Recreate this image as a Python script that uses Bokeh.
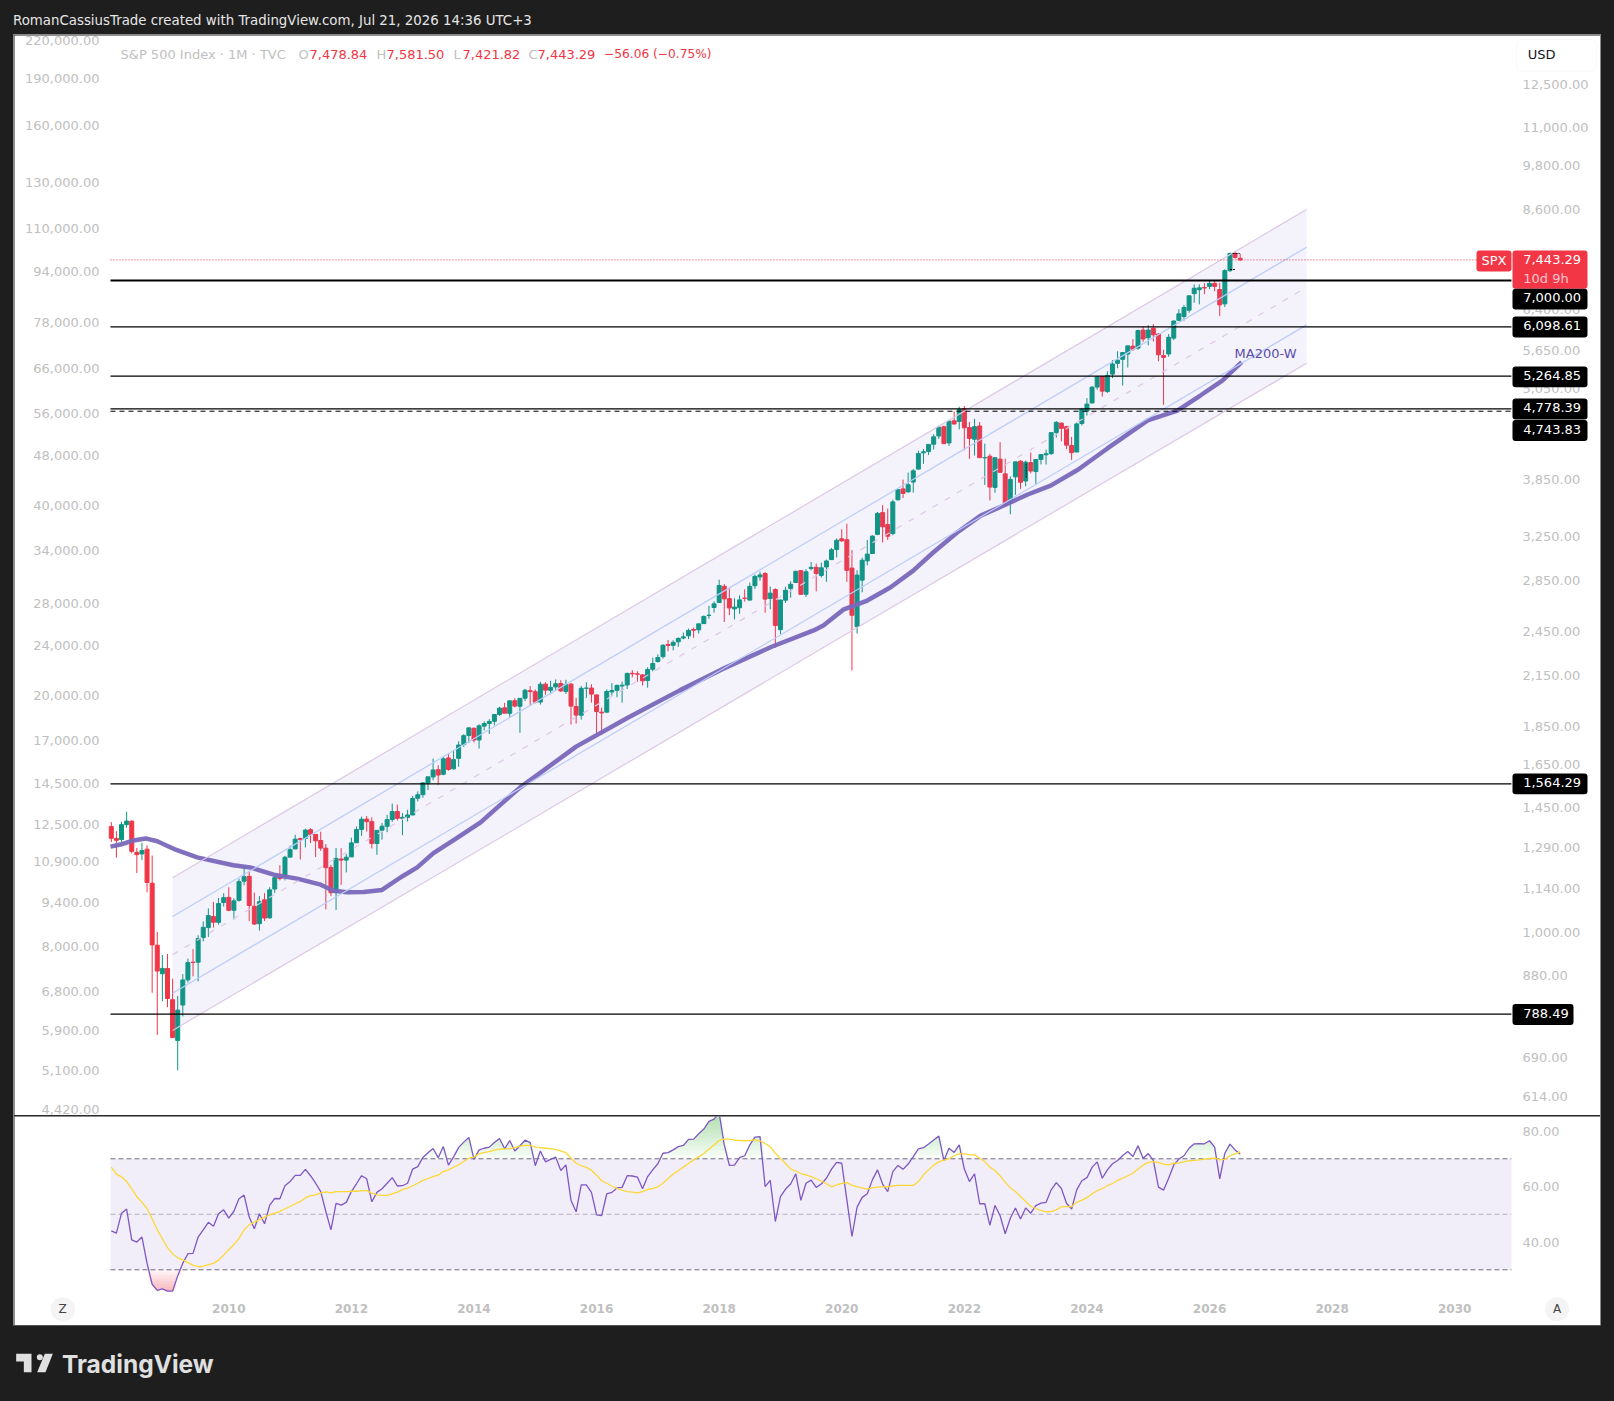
import numpy as np

from bokeh.embed import file_html
from bokeh.layouts import column
from bokeh.models import (BoxAnnotation, ColumnDataSource, FixedTicker, Label, LinearAxis, LogAxis, LogScale,
                          NumeralTickFormatter, Range1d, Spacer)
from bokeh.plotting import figure
from bokeh.resources import INLINE

# monthly bars, month 1 = Feb 2008 ... month 222 = Jul 2026
months = list(range(1, 223))

opens = [
    1378, 1330, 1326, 1386, 1400, 1276, 1270, 1288, 1164, 968, 889,
    903, 823, 729, 810, 873, 920, 920, 990, 1020, 1054, 1036, 1099,
    1116, 1074, 1106, 1171, 1188, 1087, 1032, 1108, 1050, 1144, 1186, 1187,
    1258, 1289, 1329, 1330, 1365, 1346, 1322, 1292, 1220, 1132, 1251, 1247,
    1259, 1313, 1366, 1409, 1398, 1310, 1363, 1379, 1407, 1441, 1412, 1416,
    1426, 1499, 1515, 1569, 1597, 1632, 1610, 1690, 1636, 1688, 1759, 1807,
    1846, 1783, 1858, 1873, 1885, 1924, 1962, 1930, 2004, 1971, 2019, 2065,
    2058, 1996, 2105, 2067, 2088, 2109, 2060, 2105, 1970, 1919, 2080, 2081,
    2039, 1937, 1937, 2057, 2067, 2094, 2100, 2174, 2171, 2164, 2128, 2201,
    2252, 2285, 2369, 2363, 2388, 2415, 2431, 2477, 2475, 2521, 2583, 2645,
    2684, 2817, 2715, 2634, 2643, 2719, 2704, 2822, 2897, 2926, 2717, 2790,
    2476, 2703, 2798, 2849, 2952, 2751, 2971, 2981, 2910, 2984, 3050, 3144,
    3245, 3236, 2974, 2499, 2869, 3039, 3106, 3288, 3508, 3385, 3296, 3645,
    3764, 3731, 3842, 3993, 4191, 4207, 4300, 4407, 4529, 4317, 4610, 4602,
    4778, 4519, 4364, 4540, 4130, 4149, 3781, 4113, 3937, 3610, 3902, 4088,
    3854, 4071, 3964, 4110, 4167, 4181, 4451, 4579, 4530, 4284, 4202, 4574,
    4745, 4862, 5098, 5258, 5029, 5298, 5471, 5537, 5624, 5758, 5724, 6040,
    5903, 6070, 5968, 5598, 5625, 5897, 6218, 6288, 6409, 6732, 6812, 6856,
    6878, 6940, 6815, 6530, 7209, 7590, 7478.84,
]
highs = [
    1396, 1359, 1397, 1440, 1404, 1293, 1313, 1303, 1264, 1007, 940,
    943, 876, 832, 888, 930, 957, 997, 1039, 1080, 1101, 1114, 1130,
    1150, 1113, 1180, 1220, 1206, 1132, 1120, 1130, 1150, 1196, 1228, 1263,
    1302, 1344, 1333, 1369, 1371, 1346, 1357, 1308, 1230, 1293, 1292, 1270,
    1333, 1378, 1419, 1422, 1416, 1364, 1392, 1427, 1475, 1471, 1434, 1448,
    1510, 1530, 1570, 1598, 1687, 1654, 1698, 1710, 1730, 1776, 1814, 1849,
    1851, 1868, 1884, 1897, 1925, 1968, 1991, 2006, 2019, 2019, 2076, 2093,
    2072, 2120, 2117, 2126, 2135, 2130, 2133, 2113, 2021, 2094, 2117, 2105,
    2039, 1963, 2072, 2112, 2103, 2121, 2178, 2194, 2188, 2169, 2214, 2278,
    2301, 2371, 2401, 2399, 2420, 2454, 2484, 2491, 2519, 2582, 2658, 2695,
    2873, 2835, 2801, 2718, 2742, 2791, 2848, 2917, 2941, 2940, 2815, 2800,
    2708, 2814, 2860, 2950, 2955, 2965, 3028, 3014, 3022, 3050, 3158, 3248,
    3338, 3394, 3137, 2955, 3068, 3233, 3280, 3515, 3588, 3550, 3646, 3760,
    3870, 3951, 3995, 4218, 4238, 4302, 4429, 4546, 4546, 4608, 4744, 4808,
    4819, 4595, 4637, 4593, 4307, 4178, 4140, 4325, 4119, 3906, 4080, 4101,
    4095, 4195, 4111, 4170, 4231, 4449, 4607, 4584, 4542, 4394, 4587, 4793,
    4932, 5111, 5265, 5264, 5342, 5524, 5670, 5652, 5768, 5878, 6045, 6100,
    6129, 6147, 5987, 5696, 5969, 6215, 6428, 6509, 6699, 6920, 6920, 6945,
    7002, 7000, 6950, 7240, 7610, 7640, 7581.50,
]
lows = [
    1316, 1256, 1315, 1373, 1272, 1200, 1247, 1133, 840, 741, 819,
    805, 735, 667, 783, 866, 882, 869, 979, 992, 1020, 1029, 1086,
    1071, 1045, 1102, 1157, 1040, 1028, 1011, 1040, 1048, 1131, 1174, 1174,
    1257, 1289, 1249, 1295, 1312, 1258, 1282, 1077, 1120, 1075, 1158, 1202,
    1259, 1312, 1340, 1358, 1291, 1267, 1325, 1355, 1397, 1403, 1343, 1399,
    1426, 1485, 1501, 1536, 1581, 1560, 1605, 1627, 1633, 1646, 1747, 1767,
    1770, 1738, 1834, 1815, 1862, 1915, 1931, 1905, 1965, 1821, 2002, 1973,
    1988, 1981, 2040, 2049, 2067, 2057, 2045, 1867, 1872, 1894, 2020, 1993,
    1812, 1810, 1931, 2034, 2025, 1992, 2075, 2148, 2120, 2097, 2084, 2187,
    2245, 2272, 2322, 2328, 2353, 2406, 2408, 2417, 2447, 2520, 2557, 2605,
    2683, 2533, 2585, 2553, 2595, 2691, 2699, 2795, 2864, 2604, 2631, 2347,
    2444, 2681, 2723, 2849, 2751, 2729, 2953, 2775, 2892, 2855, 3050, 3070,
    3215, 2855, 2192, 2447, 2767, 2999, 3101, 3280, 3209, 3233, 3279, 3634,
    3663, 3725, 3723, 3990, 4056, 4164, 4233, 4367, 4306, 4279, 4560, 4495,
    4223, 4115, 4157, 4125, 3810, 3637, 3721, 3955, 3585, 3491, 3699, 3764,
    3794, 3944, 3809, 4049, 4048, 4165, 4385, 4336, 4238, 4104, 4197, 4546,
    4683, 4854, 5057, 4954, 5011, 5235, 5391, 5120, 5403, 5675, 5696, 5832,
    5773, 5837, 5504, 4835, 5578, 5861, 6202, 6212, 6361, 6551, 6521, 6721,
    6820, 6780, 6300, 6470, 7180, 7470, 7421.82,
]
closes = [
    1330.6, 1322.7, 1385.6, 1400.4, 1280, 1267.4, 1282.8, 1166.4, 968.8, 896.2, 903.3,
    825.9, 735.1, 797.9, 872.8, 919.1, 919.3, 987.5, 1020.6, 1057.1, 1036.2, 1095.6, 1115.1,
    1073.9, 1104.5, 1169.4, 1186.7, 1089.4, 1030.7, 1101.6, 1049.3, 1141.2, 1183.3, 1180.6, 1257.6,
    1286.1, 1327.2, 1325.8, 1363.6, 1345.2, 1320.6, 1292.3, 1218.9, 1131.4, 1253.3, 1247, 1257.6,
    1312.4, 1365.7, 1408.5, 1397.9, 1310.3, 1362.2, 1379.3, 1406.6, 1440.7, 1412.2, 1416.2, 1426.2,
    1498.1, 1514.7, 1569.2, 1597.6, 1630.7, 1606.3, 1685.7, 1633, 1681.6, 1756.5, 1805.8, 1848.4,
    1782.6, 1859.5, 1872.3, 1884, 1923.6, 1960.2, 1930.7, 2003.4, 1972.3, 2018, 2067.6, 2058.9,
    1995, 2104.5, 2067.9, 2085.5, 2107.4, 2063.1, 2103.8, 1972.2, 1920, 2079.4, 2080.4, 2043.9,
    1940.2, 1932.2, 2059.7, 2065.3, 2097, 2098.9, 2173.6, 2171, 2168.3, 2126.2, 2198.8, 2238.8,
    2278.9, 2363.6, 2362.7, 2384.2, 2411.8, 2423.4, 2470.3, 2471.7, 2519.4, 2575.3, 2584.8, 2673.6,
    2823.8, 2713.8, 2640.9, 2648, 2705.3, 2718.4, 2816.3, 2901.5, 2914, 2711.7, 2760.2, 2506.9,
    2704.1, 2784.5, 2834.4, 2945.8, 2750.5, 2941.8, 2980.4, 2926.5, 2976.7, 3037.6, 3141, 3230.8,
    3225.5, 2954.2, 2584.6, 2912.4, 3044.3, 3100.3, 3271.1, 3500.3, 3363, 3270, 3621.6, 3756.1,
    3714.2, 3811.2, 3972.9, 4181.2, 4204.1, 4297.5, 4395.3, 4522.7, 4307.5, 4605.4, 4567, 4766.2,
    4515.6, 4373.9, 4530.4, 4131.9, 4132.2, 3785.4, 4130.3, 3955, 3585.6, 3872, 4080.1, 3839.5,
    4076.6, 3970.2, 4109.3, 4169.5, 4179.8, 4450.4, 4589, 4507.7, 4288, 4193.8, 4567.8, 4769.8,
    4845.7, 5096.3, 5254.4, 5035.7, 5277.5, 5460.5, 5522.3, 5648.4, 5762.5, 5705.5, 6032.4, 5881.6,
    6040.5, 5954.5, 5611.9, 5569, 5911.7, 6205, 6339.4, 6460.3, 6688.5, 6840.2, 6849.1, 6845.5,
    6939, 6879, 6510, 7209, 7586, 7499.35, 7443.29,
]

# MA200-W, read at a few bars along the curve
ma_months = [0.84, 2.8, 5.35, 7.7, 10, 13.6, 17.8, 24.9, 28.2, 32.8, 37.4, 42, 44.5, 47.2, 50.4, 54, 57.6,
             60.9, 64, 68.7, 73.3, 77.2, 81, 92, 102.2, 112.2, 120.4, 130.4, 138.5, 140.4, 144.3, 149, 153.5,
             158, 161.9, 166.6, 171.2, 175.7, 180.4, 184.9, 190.3, 196, 203.9, 209.7, 214.2, 218.5, 222.3]
ma_values = [1298, 1306, 1322, 1330, 1319, 1286, 1257, 1228, 1220, 1194, 1180, 1159, 1138, 1133, 1134, 1141, 1184,
             1220, 1272, 1332, 1395, 1471, 1547, 1748, 1906, 2065, 2198, 2355, 2470, 2506, 2628, 2700, 2807,
             2952, 3115, 3306, 3477, 3583, 3702, 3802, 3988, 4246, 4615, 4753, 4971, 5197, 5490]

# parallel channel ends
channel_months = [13, 235]
channel_top = [1183, 8649]
channel_upper = [1054, 7731]
channel_mid = [941, 6861]
channel_lower = [839, 6134]
channel_bottom = [751, 5473]

rsi = [
    44, 43.2, 50.4, 51.9, 40.8, 40, 41.8, 32.4, 24.8, 22.6, 23.1,
    22.3, 22.3, 27.8, 32.4, 35.8, 35.9, 41.8, 44.4, 47.1, 45.7, 50.2, 51.6,
    48.6, 51.1, 55.6, 56.9, 49, 44.8, 50.2, 46.6, 53.2, 55.7, 55.6, 60.3,
    61.8, 64, 64, 66.2, 63.9, 61.2, 58.2, 51, 44.4, 53.9, 53.3, 54.3,
    58.2, 61, 63.9, 62.8, 54.5, 57.9, 59.2, 61.2, 63.2, 60.2, 60.3, 61.2,
    66.3, 67.2, 70.5, 72.2, 73.7, 70.4, 74.4, 67.7, 70.6, 74.1, 76, 77.7,
    69.8, 73.2, 73.8, 74.2, 75.9, 77.3, 73.6, 76.6, 72.8, 74.7, 76.7, 75.8,
    67.5, 72.8, 68.9, 69.8, 70.6, 65.8, 67.8, 55, 50.9, 60.6, 60.6, 57.9,
    49.8, 49.5, 57.4, 57.9, 59.5, 59.7, 63.9, 63.8, 63.4, 59.2, 63.6, 66,
    68.2, 72, 72.2, 73.2, 74.4, 74.8, 77, 77.1, 79, 80.7, 83.5, 84.3,
    86.5, 75, 67.6, 67.7, 70.4, 71.1, 75, 77.8, 78, 60, 62.2, 47.4,
    56.4, 59.1, 60.9, 64.6, 55, 61.2, 62.3, 59.7, 60.9, 63, 66.3, 68.7,
    68.4, 55.2, 42, 52.6, 56.1, 57.4, 62.4, 66, 60.9, 58.2, 65.4, 67.6,
    66.2, 68.1, 70.8, 73.6, 74, 75.3, 76.8, 78.2, 69.4, 73.8, 72.3, 75,
    66.3, 61.8, 64.6, 53.8, 53.8, 46, 53.2, 49.5, 43, 48.6, 52.3, 48.3,
    52.3, 50.4, 53.1, 54, 54.3, 58.8, 61.4, 59.3, 54, 51.9, 58.8, 62.1,
    63.2, 66.9, 68.9, 63, 66, 68.2, 69.4, 71.2, 72.6, 70.8, 74.7, 70.1,
    71.9, 69.4, 59.8, 58.7, 63, 67.8, 69.9, 71.1, 73.8, 75.4, 75.5, 75.4,
    76.5, 74.2, 62.8, 72, 75.3, 73.2, 71.7,
]
rsi_ma = [
    67, 64.5, 63.5, 61.8, 59.2, 56.4, 54.3, 52.1, 48.3, 44.4, 41.2,
    38, 35.8, 34.3, 33.6, 32.6, 31.7, 31.1, 31.3, 31.9, 32.3, 33.5, 35.3,
    37.2, 39.1, 41.3, 44.4, 46.2, 47.2, 48.1, 49, 49.8, 50.4, 51, 52,
    52.8, 53.8, 54.6, 55.9, 56.7, 57, 57.7, 58.1, 57.7, 58.2, 58.2, 58.2,
    58.3, 58.3, 58.5, 58.5, 57.6, 57, 56.8, 56.8, 57.4, 58, 59, 59.4,
    60.3, 61.2, 62.2, 62.9, 63.6, 64.1, 65.4, 66, 67, 67.8, 69, 70.2,
    70.6, 71.8, 72.3, 72.6, 73.1, 73.5, 73.6, 73.7, 74, 74.6, 74.8, 74.8,
    74.2, 74, 73.8, 73.6, 73.4, 72.8, 72.2, 70.2, 68.4, 67.5, 66.9, 65.9,
    64.1, 62.1, 61.2, 60.2, 59.3, 58.7, 58.2, 58, 57.7, 58.2, 59, 59.3,
    59.9, 61.2, 62.9, 64.5, 65.7, 67, 68.3, 69.6, 70.7, 71.9, 73.5, 75,
    76.6, 77.1, 77.1, 76.7, 76.6, 76.5, 76.6, 76.8, 76.4, 75.5, 74.3, 72,
    70.1, 68.3, 66.3, 65.6, 64.7, 64.2, 63.6, 62.8, 62, 61, 59.9, 60.6,
    61.1, 61.4, 60.5, 59.9, 59.5, 59.1, 59.5, 59.8, 59.9, 59.9, 60.2, 60.4,
    60.4, 60.4, 60.4, 61.8, 64.2, 66, 67.7, 68.9, 69.5, 70, 71.1, 71.8,
    71.8, 71.4, 71.4, 70.2, 69, 67, 65.8, 63.9, 61.6, 59.5, 58.2, 56.4,
    54.6, 52.9, 52, 51.4, 50.9, 51, 51.6, 52.7, 52.8, 52.8, 54.3, 55.1,
    56, 57.4, 58.5, 59.3, 60.3, 61.1, 62.2, 63, 63.9, 64.8, 66.3, 67.7,
    68.7, 69, 68.7, 68.1, 67.8, 68.4, 68.5, 68.9, 69.3, 69.4, 69.6, 69.9,
    70.1, 70.2, 69.6, 69.8, 71.1, 71.8, 72.6,
]

level_values = [7000, 6098.61, 5264.85, 4778.39, 1564.29, 788.49]
dashed_level = 4743.83
last_price = 7443.29

left_ticks = [220000, 190000, 160000, 130000, 110000, 94000, 78000, 66000, 56000, 48000, 40000, 34000, 28000,
              24000, 20000, 17000, 14500, 12500, 10900, 9400, 8000, 6800, 5900, 5100, 4420]
right_ticks = [12500, 11000, 9800, 8600, 7000, 6400, 5650, 5050, 4450, 3850, 3250, 2850, 2450, 2150, 1850,
               1650, 1450, 1290, 1140, 1000, 880, 780, 690, 614]
rsi_ticks = [40, 60, 80]
year_ticks = {24: "2010", 48: "2012", 72: "2014", 96: "2016", 120: "2018", 144: "2020",
              168: "2022", 192: "2024", 216: "2026", 240: "2028", 264: "2030"}

DARK = "#1e1e1e"
FONT = "DejaVu Sans"
GREY = "#c0c0c0"
UP = "#089981"
DOWN = "#f23645"
W = 1586
MAIN_TOP, RSI_TOP, LEFT = 35, 1116, 14
# the plotted months run between these, the panes go on to the axis labels
T0, T1 = 0.84, 275.1


def text(p, top, s, x, y, color, size="13px", align="left", style="normal"):
    # x, y are page pixels of the picture, top is where the figure starts
    p.add_layout(Label(x=x - LEFT, y=y - top, x_units="canvas", y_units="canvas", text=s, text_color=color,
                       text_font=FONT, text_font_size=size, text_align=align, text_baseline="middle",
                       text_font_style=style))


def box(p, top, x0, x1, y0, y1, fill, line=None, radius=3):
    p.add_layout(BoxAnnotation(left=x0 - LEFT, right=x1 - LEFT, top=y0 - top, bottom=y1 - top,
                               left_units="canvas", right_units="canvas", top_units="canvas", bottom_units="canvas",
                               fill_color=fill, fill_alpha=1, line_color=line, border_radius=radius))


def clean(ax):
    ax.axis_line_color = None
    ax.major_tick_line_color = None
    ax.minor_tick_line_color = None
    ax.major_tick_out = 0
    ax.major_tick_in = 0
    ax.major_label_text_color = GREY
    ax.major_label_text_font = FONT
    ax.major_label_text_font_size = "13px"
    ax.major_label_standoff = 11


x_range = Range1d(-17.95, 292.54)

# main pane
p = figure(width=W, height=1080, x_range=x_range, y_range=Range1d(583, 14516), y_axis_type="log",
           x_axis_location=None, y_axis_location=None, toolbar_location=None, output_backend="svg",
           min_border=0, outline_line_color=None)
p.grid.visible = False
# the left scale is not the price scale; the right labels sit a little above their price
p.extra_y_ranges = {"shadow": Range1d(10 ** 3.6356, 10 ** 5.3472), "labels": Range1d(580.3, 14449)}
p.extra_y_scales = {"shadow": LogScale(), "labels": LogScale()}

left_axis = LogAxis(y_range_name="shadow", ticker=FixedTicker(ticks=left_ticks), fixed_location=T0,
                    formatter=NumeralTickFormatter(format="0,0.00"))
right_axis = LogAxis(y_range_name="labels", ticker=FixedTicker(ticks=right_ticks), fixed_location=T1,
                     formatter=NumeralTickFormatter(format="0,0.00"))
p.add_layout(left_axis, "left")
p.add_layout(right_axis, "right")
clean(left_axis)
clean(right_axis)

colors = [UP if c >= o else DOWN for o, c in zip(opens, closes)]
source = ColumnDataSource(dict(t=months, o=opens, h=highs, l=lows, c=closes, color=colors,
                               top=np.maximum(opens, closes), bottom=np.minimum(opens, closes)))
p.segment("t", "h", "t", "l", color="color", line_width=1, source=source)
p.vbar("t", 0.78, "top", "bottom", fill_color="color", line_color="color", line_width=1, source=source)

p.line(ma_months, ma_values, line_color="#7a68ba", line_width=4.5, line_alpha=0.95)

p.varea(channel_months, channel_bottom, channel_top, fill_color="#7e6bd0", fill_alpha=0.085)
p.line(channel_months, channel_top, line_color="#dcc8e6", line_width=1.2)
p.line(channel_months, channel_bottom, line_color="#dcc8e6", line_width=1.2)
p.line(channel_months, channel_upper, line_color="#b9cdfa", line_width=1.2)
p.line(channel_months, channel_lower, line_color="#b9cdfa", line_width=1.2)
p.line(channel_months, channel_mid, line_color="#dcc8e6", line_width=1.2, line_dash="6 8")

# small black dashed drawings
p.multi_line([[220, 221.1], [220.5, 221.9], [180.1, 180.1]], [[7233, 7233], [7586, 7586], [4059, 3882]],
             line_color="#000000", line_width=1, line_dash="2 1")

p.line([T0, T1], [last_price, last_price], line_color=DOWN, line_width=1, line_dash="1 2")
for v in level_values:
    p.line([T0, T1], [v, v], line_color="#000000", line_width=2 if v == 7000 else 1.2)
p.line([T0, T1], [dashed_level, dashed_level], line_color="#000000", line_width=1, line_dash="5 4")

p.add_layout(Label(x=220.9, y=5632, text="MA200-W", text_color="#5c4ea8", text_font=FONT, text_font_size="13px",
                   text_baseline="middle"))

# legend row
text(p, MAIN_TOP, "S&P 500 Index · 1M · TVC", 120, 53.5, GREY)
for s, x in [("O", 298), ("H", 376), ("L", 453), ("C", 528)]:
    text(p, MAIN_TOP, s, x, 53.5, GREY)
for s, x in [("7,478.84", 309), ("7,581.50", 386), ("7,421.82", 462), ("7,443.29", 537)]:
    text(p, MAIN_TOP, s, x, 53.5, DOWN)
text(p, MAIN_TOP, "−56.06 (−0.75%)", 603.6, 53.5, DOWN, size="12.2px")

box(p, MAIN_TOP, 1516, 1596, 39, 70.7, "#ffffff", line="#ebebeb", radius=6)
text(p, MAIN_TOP, "USD", 1527.3, 54.3, "#131722")

# price tags
box(p, MAIN_TOP, 1476, 1511, 250, 271, DOWN)
text(p, MAIN_TOP, "SPX", 1493.5, 259.5, "#ffffff", align="center")
box(p, MAIN_TOP, 1512, 1587, 250, 288.3, DOWN)
text(p, MAIN_TOP, f"{last_price:,.2f}", 1522.7, 259, "#ffffff")
text(p, MAIN_TOP, "10d 9h", 1522.7, 277.5, "#fcc5ca")
for v, yc, right in [(7000, 298.7, 1587), (6098.61, 326.5, 1587), (5264.85, 376.3, 1587), (4778.39, 408.5, 1587),
                     (dashed_level, 430, 1587), (1564.29, 783.3, 1587), (788.49, 1014, 1573)]:
    box(p, MAIN_TOP, 1512, right, yc - 10.4, yc + 10.4, "#000000")
    text(p, MAIN_TOP, f"{v:,.2f}", 1522.7, yc - 1.5, "#ffffff")

# rsi pane
r = figure(width=W, height=209, x_range=x_range, y_range=Range1d(9.93, 85.24), x_axis_location=None,
           y_axis_location=None, toolbar_location=None, output_backend="svg", min_border=0, outline_line_color=None)
r.grid.visible = False
r.add_layout(BoxAnnotation(left=T0, right=T1, bottom=30, top=70, fill_color="#7e57c2", fill_alpha=0.1,
                           line_color=None, level="underlay"))
rsi_arr = np.array(rsi)
for level in np.arange(70, 88, 1.5):
    r.varea(months, np.full(len(rsi), level), np.maximum(rsi_arr, level), fill_color="#4caf50", fill_alpha=0.045)
for level in np.arange(30, 21, -1):
    r.varea(months, np.minimum(rsi_arr, level), np.full(len(rsi), level), fill_color="#f23645", fill_alpha=0.05)
r.line([T0, T1], [70, 70], line_color="#6f6b80", line_width=1, line_dash="5 3")
r.line([T0, T1], [50, 50], line_color="#b5b1c0", line_width=1, line_dash="5 3")
r.line([T0, T1], [30, 30], line_color="#6f6b80", line_width=1, line_dash="5 3")
r.line(months, rsi, line_color="#7e57c2", line_width=1.3)
r.line(months, rsi_ma, line_color="#fdd835", line_width=1.3)

rsi_axis = LinearAxis(ticker=FixedTicker(ticks=rsi_ticks), fixed_location=T1,
                      formatter=NumeralTickFormatter(format="0.00"))
time_axis = LinearAxis(ticker=FixedTicker(ticks=list(year_ticks)), fixed_location=22.3,
                       major_label_overrides=year_ticks)
r.add_layout(rsi_axis, "right")
r.add_layout(time_axis, "below")
clean(rsi_axis)
clean(time_axis)
time_axis.major_label_standoff = 13
time_axis.major_label_text_font_style = "bold"
time_axis.major_label_text_font_size = "12px"

box(r, RSI_TOP, 50, 74.5, 1296.7, 1320.7, "#f4f4f4", radius=12)
text(r, RSI_TOP, "Z", 62, 1308.7, "#444444", size="12px", align="center")
box(r, RSI_TOP, 1544.6, 1568.6, 1296.7, 1320.7, "#f4f4f4", radius=12)
text(r, RSI_TOP, "A", 1556.6, 1308.7, "#444444", size="12px", align="center")


def band(h):
    b = figure(width=1614, height=h, x_range=(0, 1614), y_range=(h, 0), x_axis_location=None, y_axis_location=None,
               toolbar_location=None, output_backend="svg", min_border=0, outline_line_color=None,
               background_fill_color=DARK, border_fill_color=DARK)
    b.grid.visible = False
    return b


header = band(35)
header.add_layout(Label(x=12.5, y=19.5, text="RomanCassiusTrade created with TradingView.com, Jul 21, 2026 14:36 UTC+3",
                        text_color="#e6e6e6", text_font=FONT, text_font_size="13.35px", text_baseline="middle"))

footer = band(76)
logo_x = [[47, 93, 93, 70, 70, 47], [157, 135, 110, 133]]
logo_y = [[100, 100, 155, 155, 123, 123], [100, 155, 155, 100]]
footer.patches([[v / 3 for v in xs] for xs in logo_x], [[v / 3 - 5 for v in ys] for ys in logo_y],
               fill_color="#e0e0e0", line_color=None)
footer.scatter([118 / 3], [110 / 3 - 5], size=6, fill_color="#e0e0e0", line_color=None)
footer.add_layout(Label(x=61.5, y=38.5, text="TradingView", text_color="#e0e0e0", text_font="Inter",
                        text_font_size="24.5px", text_font_style="bold", text_baseline="middle"))

sep = Spacer(width=W, height=1, styles={"background-color": "#2b2b2b"})
chart = column(p, sep, r, spacing=0, margin=(0, 0, 0, 14), styles={"outline": "1px solid #8a8a8a"})
page = column(header, chart, footer, spacing=0, margin=0)

html = file_html(page, INLINE)
html = html.replace("</head>", "<style>html, body { background: #1e1e1e; margin: 0; }</style></head>")
open("out.html", "w").write(html)
